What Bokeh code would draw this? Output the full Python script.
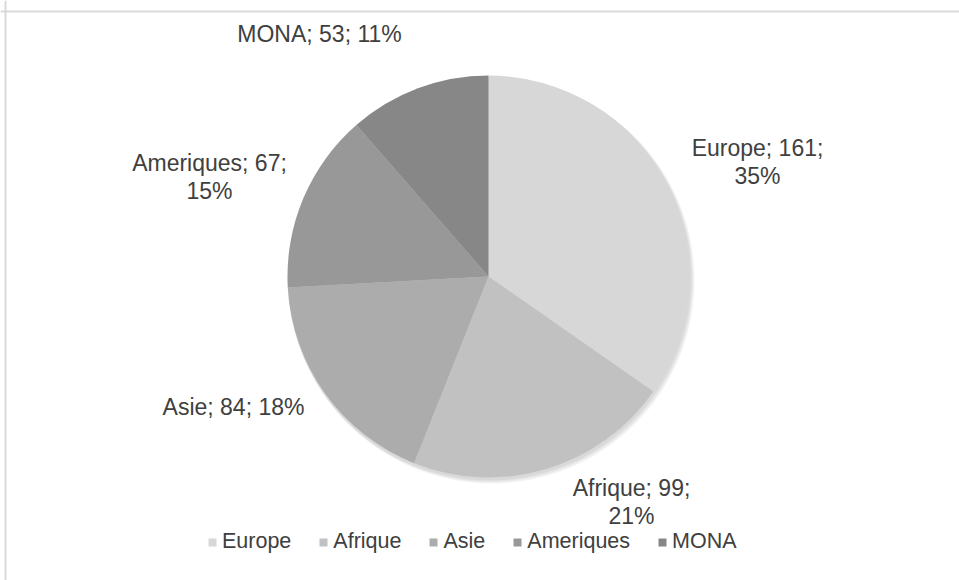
import math
from bokeh.plotting import figure
from bokeh.models import Range1d, Span, Legend, LegendItem, ColumnDataSource
from bokeh.core.properties import value
from bokeh.embed import file_html
from bokeh.resources import INLINE

# ---- data ----
categories = ["Europe", "Afrique", "Asie", "Ameriques", "MONA"]
values = [161, 99, 84, 67, 53]
percents = [35, 21, 18, 15, 11]
colors = ["#d7d7d7", "#c1c1c1", "#acacac", "#989898", "#878787"]

# ---- layout (page pixels; the page has no margin) ----
W, H = 959, 580
def px(x): return x
def py(y): return H - y

CX, CY, R = px(488), py(276), 201
FONT = "Liberation Sans"
TXT = "#404040"
FS_LABEL = "23px"
FS_LEGEND = "21.5px"

# label layout: (center x, center y of first line) in page pixels, and line breaks
label_pos = {
    "Europe": (757, 147, True),
    "Afrique": (631, 487, True),
    "Asie": (233, 406, False),
    "Ameriques": (209, 162, True),
    "MONA": (319, 33, False),
}

p = figure(width=W, height=H, output_backend="svg", toolbar_location=None,
           x_range=Range1d(0, W), y_range=Range1d(0, H),
           min_border=0, min_border_left=0, min_border_right=0,
           min_border_top=0, min_border_bottom=0)
p.axis.visible = False
p.grid.visible = False
p.outline_line_color = None
p.background_fill_color = "white"
p.border_fill_color = "white"

# chart-area border (top and left visible)
p.add_layout(Span(location=py(11), dimension="width", line_color="#d9d9d9", line_width=2))
p.add_layout(Span(location=px(5), dimension="height", line_color="#d9d9d9", line_width=2))

# soft shadow
for i, a in enumerate([0.05, 0.05, 0.05]):
    p.circle(x=[CX + 1 + i], y=[CY - 2 - i], radius=R + 1 + i * 0.5,
             fill_color="black", fill_alpha=a, line_color=None)

total = sum(values)
starts, ends = [], []
cum = 0
for v in values:
    a0 = math.pi / 2 - 2 * math.pi * cum / total
    cum += v
    a1 = math.pi / 2 - 2 * math.pi * cum / total
    starts.append(a0)
    ends.append(a1)

src = ColumnDataSource(dict(x=[CX] * len(values), y=[CY] * len(values),
                            start=starts, end=ends, color=colors, cat=categories))
wr = p.wedge(x="x", y="y", radius=R, start_angle="start", end_angle="end",
             direction="clock", fill_color="color", line_color=None, source=src)

# data labels
for cat, v, pc in zip(categories, values, percents):
    lx, ly, split = label_pos[cat]
    if split:
        lines = [f"{cat}; {v};", f"{pc}%"]
    else:
        lines = [f"{cat}; {v}; {pc}%"]
    for k, line in enumerate(lines):
        p.text(x=[px(lx)], y=[py(ly + 28 * k)], text=[line],
               text_align="center", text_baseline="middle",
               text_font=value(FONT), text_font_size=FS_LABEL, text_color=TXT)

legend = Legend(items=[LegendItem(label=c, renderers=[wr], index=i) for i, c in enumerate(categories)],
                orientation="horizontal", location=(px(207), py(554)),
                glyph_width=10, glyph_height=10, label_standoff=5, spacing=27,
                padding=0, margin=0, border_line_color=None, background_fill_alpha=0,
                label_text_font=FONT, label_text_font_size=FS_LEGEND, label_text_color=TXT,
                label_height=22)
p.add_layout(legend, "center")

open("out.html", "w").write(file_html(p, INLINE))
